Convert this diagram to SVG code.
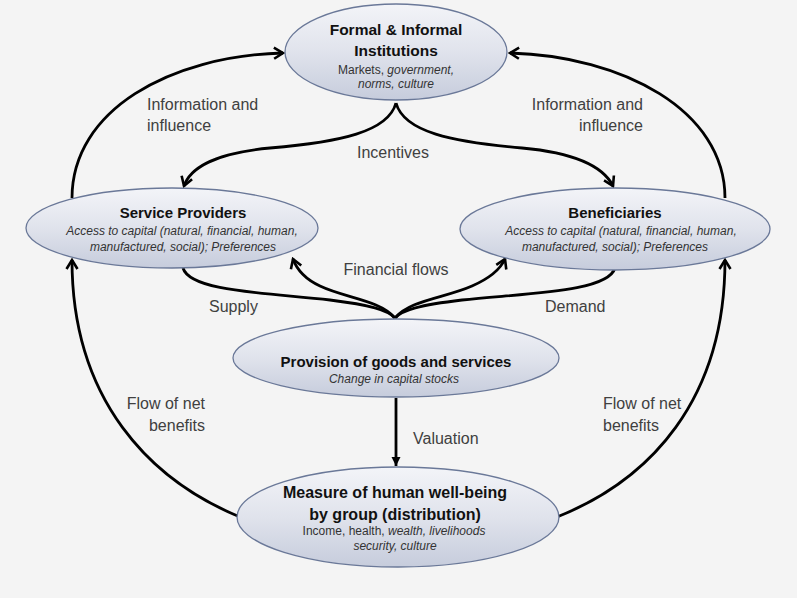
<svg xmlns="http://www.w3.org/2000/svg" width="797" height="598" viewBox="0 0 797 598">
<defs>
<linearGradient id="g" x1="0" y1="0" x2="0" y2="1">
<stop offset="0" stop-color="#f3f4f8"/>
<stop offset="0.5" stop-color="#e0e3ec"/>
<stop offset="1" stop-color="#c6ccdc"/>
</linearGradient>
<marker id="open" viewBox="-11 -7 13 14" markerWidth="13" markerHeight="14" refX="0" refY="0" orient="auto" markerUnits="userSpaceOnUse">
<path d="M-9,-5.5 L0,0 L-9,5.5" fill="none" stroke="#000" stroke-width="2.6" stroke-linejoin="miter"/>
</marker>
<marker id="solid" viewBox="-10 -6 11 12" markerWidth="11" markerHeight="12" refX="0" refY="0" orient="auto" markerUnits="userSpaceOnUse">
<path d="M-9,-4.5 L0,0 L-9,4.5 Z" fill="#000"/>
</marker>
</defs>
<style>
.node ellipse{fill:url(#g);stroke:#6a7898;stroke-width:1.3}
.t{font-family:"Liberation Sans",Arial,sans-serif;font-weight:bold;fill:#111;text-anchor:middle}
.s{font-family:"Liberation Sans",Arial,sans-serif;font-size:12px;fill:#333;text-anchor:middle}
.i{font-style:italic}
.lbl{font-family:"Liberation Sans",Arial,sans-serif;font-size:16px;fill:#404040}
.c path{fill:none;stroke:#000;stroke-width:2.8}
</style>
<rect width="797" height="598" fill="#f4f4f4"/>

<g class="c" id="connectors">
<path d="M72,198 C72,110 170,56 283,53" marker-end="url(#open)"/>
<path d="M725,198 C725,110 622,56 510,53" marker-end="url(#open)"/>
<path d="M396,103 C388,132 340,142 270,148 C215,153 190,168 184,186" marker-end="url(#open)"/>
<path d="M396,103 C404,132 452,142 522,148 C577,153 604,168 613,186" marker-end="url(#open)"/>
<path d="M183,268 C190,292 270,293 330,300 C370,305 388,310 395,318"/>
<path d="M615,268 C608,292 528,293 462,300 C420,305 402,310 395,318"/>
<path d="M395,318 C380,300 345,298 320,286 C305,279 297,270 293,259" marker-end="url(#open)"/>
<path d="M395,318 C410,300 445,298 472,286 C488,279 500,270 505,259" marker-end="url(#open)"/>
<path d="M240,517 C150,480 72,400 72,260" marker-end="url(#open)"/>
<path d="M557,517 C650,480 725,400 725,260" marker-end="url(#open)"/>
<path d="M396,398 L396,466" stroke-width="2.4" marker-end="url(#solid)"/>
</g>

<g class="node" id="institutions">
<ellipse cx="396" cy="52" rx="111" ry="48"/>
<text class="t" x="396" y="35" font-size="15.5">Formal &amp; Informal</text>
<text class="t" x="396" y="56" font-size="15.5">Institutions</text>
<text class="s" x="396" y="74" font-size="11.5">Markets, <tspan class="i">government,</tspan></text>
<text class="s i" x="396" y="88" font-size="11.5">norms, culture</text>
</g>

<g class="node" id="providers">
<ellipse cx="172" cy="228" rx="146" ry="40"/>
<text class="t" x="183" y="218" font-size="15">Service Providers</text>
<text class="s i" x="182" y="235">Access to capital (natural, financial, human,</text>
<text class="s i" x="183" y="251">manufactured, social); Preferences</text>
</g>

<g class="node" id="beneficiaries">
<ellipse cx="615" cy="229" rx="155" ry="41"/>
<text class="t" x="615" y="218" font-size="15">Beneficiaries</text>
<text class="s i" x="621" y="235">Access to capital (natural, financial, human,</text>
<text class="s i" x="615" y="251">manufactured, social); Preferences</text>
</g>

<g class="node" id="provision">
<ellipse cx="396" cy="358" rx="163" ry="39"/>
<text class="t" x="396" y="367" font-size="15">Provision of goods and services</text>
<text class="s i" x="394" y="383">Change in capital stocks</text>
</g>

<g class="node" id="wellbeing">
<ellipse cx="398" cy="517" rx="161" ry="50"/>
<text class="t" x="395" y="498" font-size="16">Measure of human well-being</text>
<text class="t" x="395" y="520" font-size="16">by group (distribution)</text>
<text class="s" x="394" y="535">Income, health, <tspan class="i">wealth, livelihoods</tspan></text>
<text class="s i" x="395" y="550">security, culture</text>
</g>

<g id="labels">
<text class="lbl" x="147" y="110">Information and</text>
<text class="lbl" x="147" y="131">influence</text>
<text class="lbl" x="643" y="110" text-anchor="end">Information and</text>
<text class="lbl" x="643" y="131" text-anchor="end">influence</text>
<text class="lbl" x="393" y="158" text-anchor="middle">Incentives</text>
<text class="lbl" x="396" y="275" text-anchor="middle">Financial flows</text>
<text class="lbl" x="209" y="312">Supply</text>
<text class="lbl" x="545" y="312">Demand</text>
<text class="lbl" x="205" y="409" text-anchor="end">Flow of net</text>
<text class="lbl" x="205" y="431" text-anchor="end">benefits</text>
<text class="lbl" x="603" y="409">Flow of net</text>
<text class="lbl" x="603" y="431">benefits</text>
<text class="lbl" x="413" y="444">Valuation</text>
</g>
</svg>
